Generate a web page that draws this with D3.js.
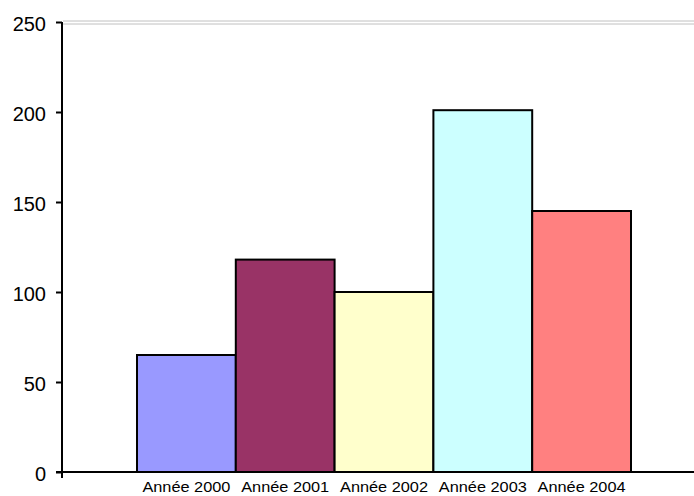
<!DOCTYPE html>
<html>
<head>
<meta charset="utf-8">
<script src="https://cdn.jsdelivr.net/npm/d3@7"></script>
<style>
  body { margin: 0; background: #fff; }
  text { font-family: "Liberation Sans", Arial, sans-serif; fill: #000; }
</style>
</head>
<body>
<svg id="chart" width="694" height="496"></svg>
<script>
const categories = ["Année 2000", "Année 2001", "Année 2002", "Année 2003", "Année 2004"];
const values = [65, 118, 100, 201, 145];
const colors = ["#9999ff", "#993366", "#ffffcc", "#ccffff", "#ff8080"];
const yTicks = [0, 50, 100, 150, 200, 250];

const svg = d3.select("#chart");

const x0 = 62, x1 = 694, y0 = 472, y1 = 22;

const xScale = d3.scaleBand().domain(categories).range([137, 631]).padding(0);
const yScale = d3.scaleLinear().domain([0, 250]).range([y0, y1]);

// grey double frame line at the top
[21, 24].forEach(yy => {
    svg.append("line")
        .attr("x1", x0 + 1).attr("x2", x1)
        .attr("y1", yy).attr("y2", yy)
        .attr("stroke", "#c0c0c0").attr("stroke-width", 1);
});

svg.selectAll(".bar")
    .data(values)
    .enter().append("rect")
    .attr("class", "bar")
    .attr("x", (d, i) => xScale(categories[i]))
    .attr("width", xScale.bandwidth())
    .attr("y", d => yScale(d))
    .attr("height", d => yScale(0) - yScale(d))
    .attr("fill", (d, i) => colors[i])
    .attr("stroke", "#000")
    .attr("stroke-width", 2);

// y axis
const yAxis = d3.axisLeft(yScale).tickValues(yTicks).tickSize(6).tickPadding(10);
const gy = svg.append("g").attr("transform", `translate(${x0},0)`).call(yAxis);
gy.select(".domain").remove();
gy.selectAll(".tick line").attr("stroke", "#000").attr("stroke-width", 2);
gy.selectAll(".tick text")
    .attr("font-size", 20)
    .attr("dy", "0.42em")
    .style("font-family", "'Liberation Sans', Arial, sans-serif");

svg.append("line")
    .attr("x1", x0).attr("x2", x0)
    .attr("y1", y1).attr("y2", y0 + 6)
    .attr("stroke", "#000").attr("stroke-width", 2);

// x axis
svg.append("line")
    .attr("x1", x0 - 6).attr("x2", x1)
    .attr("y1", y0).attr("y2", y0)
    .attr("stroke", "#000").attr("stroke-width", 2);

svg.selectAll(".xlab")
    .data(categories)
    .enter().append("text")
    .attr("class", "xlab")
    .attr("x", d => xScale(d) + xScale.bandwidth() / 2)
    .attr("y", 492)
    .attr("text-anchor", "middle")
    .attr("font-size", 15)
    .attr("textLength", 88)
    .attr("lengthAdjust", "spacingAndGlyphs")
    .text(d => d);
</script>
</body>
</html>
